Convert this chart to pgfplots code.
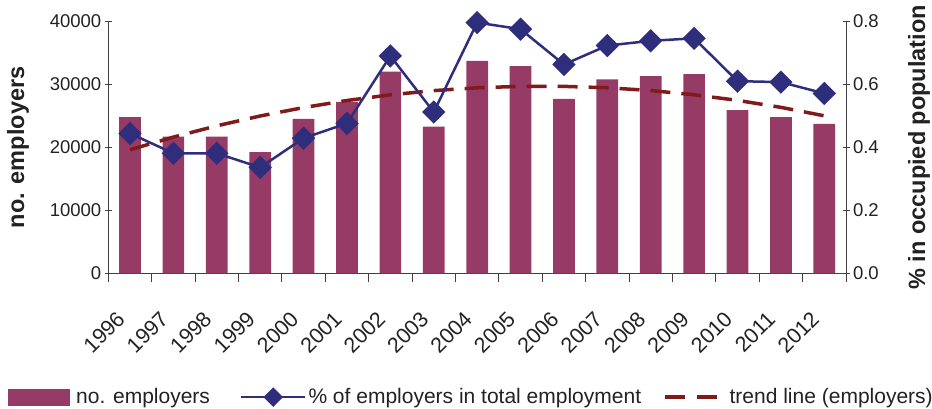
\documentclass[border=0pt]{standalone}
\usepackage{fontspec}
\setmainfont{Liberation Sans}
\usepackage{pgfplots}
\pgfplotsset{compat=1.18}
\definecolor{barc}{HTML}{963A66}
\definecolor{linec}{HTML}{2E2E7C}
\definecolor{trendc}{HTML}{801B1B}
\definecolor{axc}{HTML}{404040}
\definecolor{txtc}{HTML}{222222}
\begin{document}
\begin{tikzpicture}
\path[use as bounding box] (-108.3pt,-134.7pt) rectangle (823.7pt,273.3pt);
\begin{axis}[
  at={(0,0)}, anchor=south west,
  scale only axis, width=737.7pt, height=252pt,
  xmin=-0.5, xmax=16.5, ymin=0, ymax=40000,
  axis y line*=left, axis x line*=bottom,
  axis line style={axc, line width=1pt, -},
  xtick={0,...,16},
  xticklabels={1996,1997,1998,1999,2000,2001,2002,2003,2004,2005,2006,2007,2008,2009,2010,2011,2012},
  minor xtick={-0.5,0.5,...,16.5},
  major x tick style={draw=none},
  minor x tick style={axc, line width=1pt},
  minor tick length=9pt,
  major tick length=7pt,
  xtick align=outside,
  ytick align=center,
  ytick={0,10000,20000,30000,40000},
  scaled y ticks=false,
  y tick style={axc, line width=1pt},
  /pgf/number format/assume math mode=true,
  /pgf/number format/1000 sep={},
  yticklabel style={font=\fontsize{18.5}{20}\selectfont, text=txtc},
  xticklabel style={font=\fontsize{21.5}{23}\selectfont, text=txtc, anchor=center, xshift=-26pt, yshift=-52pt, rotate=45},
  ylabel={no. employers},
  ylabel style={at={(axis description cs:-0.1224,0.5)}, rotate=0, anchor=center, font=\fontsize{23.5}{26}\bfseries, text=txtc},
  legend style={at={(axis description cs:-0.136,-0.491)}, anchor=west, draw=none, fill=none,
    font=\fontsize{21}{24}\selectfont, text=txtc, legend columns=3, inner sep=0pt,
    /tikz/column 1/.append style={column sep=4pt},
    /tikz/column 2/.append style={column sep=28pt},
    /tikz/column 3/.append style={column sep=0pt},
    /tikz/column 4/.append style={column sep=20pt},
    /tikz/column 5/.append style={column sep=1pt}},
  legend cell align=left,
]
\addplot[ybar, bar width=0.5, fill=barc, draw=none,
  legend image code/.code={\fill[barc] (0pt,-8.5pt) rectangle (62pt,8.5pt);}]
  coordinates {(0,24800) (1,21700) (2,21700) (3,19250) (4,24500) (5,27200) (6,32000) (7,23300) (8,33700) (9,32900) (10,27700) (11,30800) (12,31300) (13,31600) (14,25900) (15,24800) (16,23700)};
\addlegendentry{no. employers}
\addlegendimage{linec, line width=2.5pt, legend image code/.code={\draw[linec, line width=2.5pt] (0pt,0pt) -- (64pt,0pt); \fill[linec] (32pt,8pt) -- (40pt,0pt) -- (32pt,-8pt) -- (24pt,0pt) -- cycle;}}
\addlegendentry{\% of employers in total employment}
\addplot[trendc, line width=3.5pt, dash pattern=on 20pt off 11pt, mark=none,
  legend image code/.code={\draw[trendc, line width=3.5pt] (0pt,0pt) -- (20pt,0pt) (32pt,0pt) -- (52pt,0pt); \path (60pt,0pt);}]
  coordinates {(0,19610) (1,21620) (2,23410) (3,24970) (4,26310) (5,27430) (6,28330) (7,29000) (8,29450) (9,29670) (10,29670) (11,29450) (12,29010) (13,28340) (14,27450) (15,26340) (16,25000)};
\addlegendentry{trend line (employers)}
\end{axis}
\begin{axis}[
  at={(0,0)}, anchor=south west,
  scale only axis, width=737.7pt, height=252pt,
  xmin=-0.5, xmax=16.5, ymin=0, ymax=0.8,
  axis y line*=right, axis x line=none,
  axis line style={axc, line width=1pt, -},
  ytick={0,0.2,0.4,0.6,0.8},
  ytick align=center,
  major tick length=7pt,
  y tick style={axc, line width=1pt},
  /pgf/number format/assume math mode=true,
  yticklabel style={/pgf/number format/.cd, fixed, fixed zerofill, precision=1, /tikz/.cd, font=\fontsize{18.5}{20}\selectfont, text=txtc},
  ylabel={\% in occupied population},
  ylabel style={at={(axis description cs:1.099,0.5)}, rotate=0, anchor=center, font=\fontsize{23.5}{26}\bfseries, text=txtc},
]
\addplot[linec, line width=2.5pt, mark=square*, mark size=7pt, mark options={rotate=45, solid, fill=linec}]
  coordinates {(0,0.444) (1,0.381) (2,0.381) (3,0.336) (4,0.429) (5,0.476) (6,0.690) (7,0.512) (8,0.796) (9,0.775) (10,0.663) (11,0.723) (12,0.738) (13,0.746) (14,0.610) (15,0.607) (16,0.571)};
\end{axis}
\end{tikzpicture}
\end{document}
